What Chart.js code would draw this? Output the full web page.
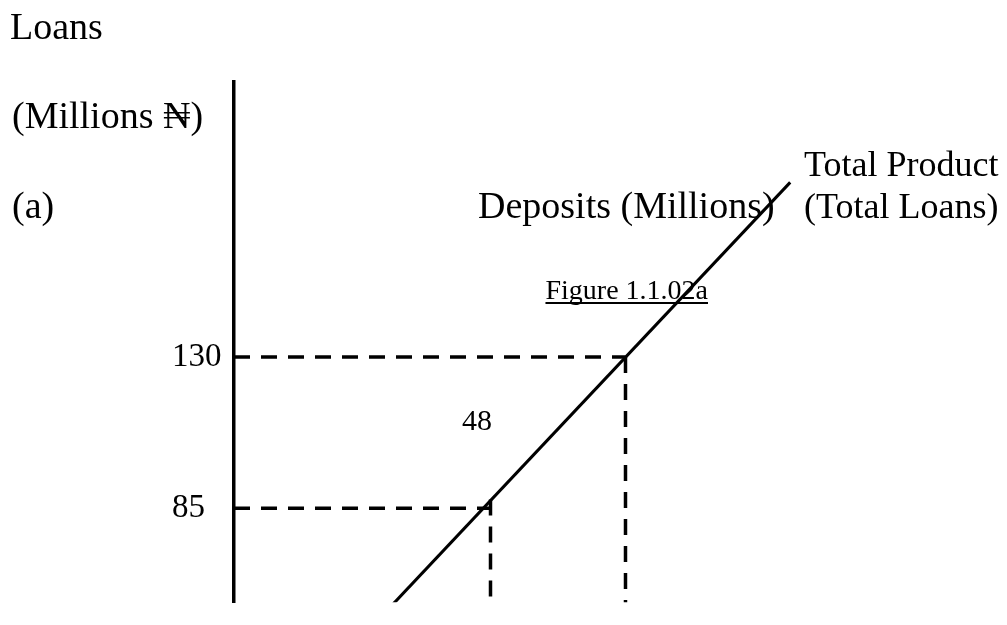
<!DOCTYPE html>
<html>
<head>
<meta charset="utf-8">
<script src="https://cdn.jsdelivr.net/npm/chart.js@4"></script>
<style>
  html, body { margin: 0; padding: 0; background: #fff; }
  #wrap { width: 1007px; height: 625px; position: relative; }
</style>
</head>
<body>
<div id="wrap"><canvas id="grafico"></canvas></div>
<script>
// valores do gráfico
const tickLoans = [85, 130];
const markDeposits = [95, 145];
const markLoans = [85, 130];
const markTopLoans = [87.6, 130];   // onde o tracejado vertical começa (na reta)
const tpDeposits = [59, 206];
const tpLoans = [56.6, 181.9];
const floorLoans = 50;

const serif = "'Liberation Serif', 'Times New Roman', serif";

// tracejados a partir dos pontos
const dashSets = [];
for (let i = 0; i < markDeposits.length; i++) {
  dashSets.push({
    data: [{ x: 0, y: markLoans[i] }, { x: markDeposits[i], y: markLoans[i] }],
  });
  dashSets.push({
    data: [{ x: markDeposits[i], y: markTopLoans[i] }, { x: markDeposits[i], y: floorLoans }],
  });
}

const datasets = dashSets.map(d => ({
  data: d.data,
  showLine: true,
  borderColor: '#000',
  borderWidth: 3.5,
  borderDash: [16, 11],
  pointRadius: 0,
}));

datasets.push({
  label: 'Total Product',
  data: tpDeposits.map((v, i) => ({ x: v, y: tpLoans[i] })),
  showLine: true,
  borderColor: '#000',
  borderWidth: 3,
  pointRadius: 0,
});

// textos soltos
const textos = {
  id: 'textos',
  afterDraw(chart) {
    const ctx = chart.ctx;
    ctx.save();
    ctx.fillStyle = '#000';
    ctx.textBaseline = 'alphabetic';
    ctx.textAlign = 'left';
    ctx.font = '38px ' + serif;
    ctx.fillText('Loans', 10, 39);
    ctx.fillText('(Millions \u20A6)', 12, 128);
    ctx.fillText('(a)', 12, 218);
    ctx.fillText('Deposits (Millions)', 478, 218);

    ctx.font = '36px ' + serif;
    ctx.fillText('Total Product', 804, 176);
    ctx.fillText('(Total Loans)', 804, 218);

    ctx.font = '28px ' + serif;
    const fig = 'Figure 1.1.02a';
    const w = ctx.measureText(fig).width;
    const fx = 708 - w;
    ctx.fillText(fig, fx, 299);
    ctx.fillRect(fx, 302, w, 2);

    ctx.font = '30px ' + serif;
    ctx.fillText('48', 462, 430);
    ctx.restore();
  }
};

const config = {
  type: 'scatter',
  data: { datasets: datasets },
  options: {
    responsive: true,
    maintainAspectRatio: false,
    animation: false,
    layout: { padding: { left: 172, top: 82, right: 0, bottom: 0 } },
    plugins: {
      legend: { display: false },
      tooltip: { enabled: false },
    },
    scales: {
      x: {
        type: 'linear',
        display: false,
        min: 0,
        max: 286.3,
      },
      y: {
        type: 'linear',
        min: 57.09,
        max: 211.74,
        afterFit: (s) => { s.width = 62; },
        afterBuildTicks: (s) => { s.ticks = tickLoans.map(v => ({ value: v })); },
        grid: { display: false },
        border: { display: true, color: '#000', width: 3.5 },
        ticks: {
          crossAlign: 'far',
          color: '#000',
          font: { family: serif, size: 33 },
          callback: (v) => String(v),
        },
      },
    },
  },
  plugins: [textos],
};

const grafico = new Chart(document.getElementById('grafico'), config);
</script>
</body>
</html>
